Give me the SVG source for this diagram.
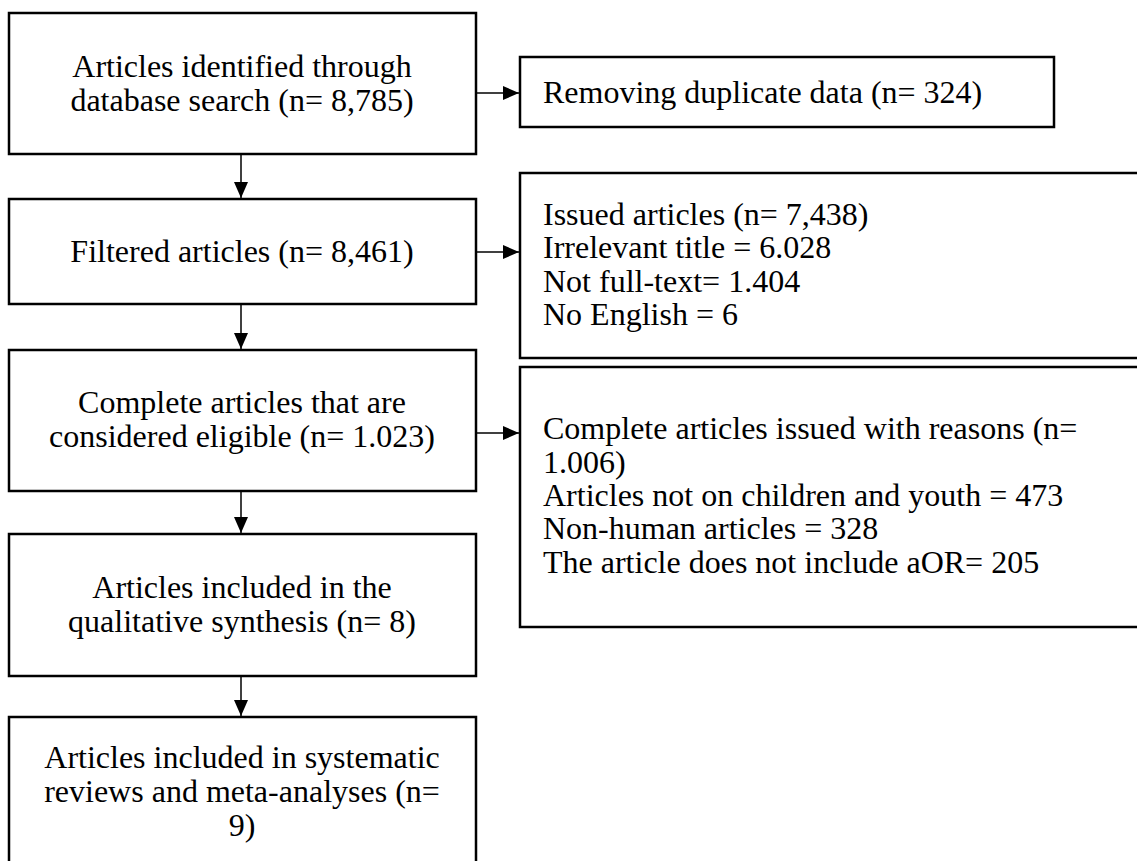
<svg xmlns="http://www.w3.org/2000/svg" width="1137" height="861" viewBox="0 0 1137 861">
<style>
.box{fill:#fff;stroke:#000;stroke-width:2.5}
.t{font-family:"Liberation Serif","Times New Roman",serif;font-size:32px;fill:#000}
.c{text-anchor:middle}
.edge{stroke:#000;stroke-width:1.5;fill:none;marker-end:url(#ah)}
</style>
<defs>
<marker id="ah" markerUnits="userSpaceOnUse" markerWidth="16" markerHeight="14" refX="16" refY="7" orient="auto">
<path d="M0,0 L16,7 L0,14 z" fill="#000"/>
</marker>
</defs>
<rect width="1137" height="861" fill="#fff"/>
<g id="connectors">
<line class="edge" x1="241" y1="154" x2="241" y2="198"/>
<line class="edge" x1="241" y1="304" x2="241" y2="349"/>
<line class="edge" x1="241" y1="491" x2="241" y2="533"/>
<line class="edge" x1="241" y1="676" x2="241" y2="716"/>
<line class="edge" x1="476" y1="93" x2="519" y2="93"/>
<line class="edge" x1="476" y1="252" x2="519" y2="252"/>
<line class="edge" x1="476" y1="433" x2="519" y2="433"/>
</g>
<g id="n1">
<rect class="box" x="9" y="13" width="467" height="141"/>
<text class="t c" x="242" y="77">Articles identified through</text>
<text class="t c" x="242" y="111">database search (n= 8,785)</text>
</g>
<g id="n2">
<rect class="box" x="9" y="199" width="467" height="105"/>
<text class="t c" x="242" y="262">Filtered articles (n= 8,461)</text>
</g>
<g id="n3">
<rect class="box" x="9" y="350" width="467" height="141"/>
<text class="t c" x="242" y="413">Complete articles that are</text>
<text class="t c" x="242" y="447">considered eligible (n= 1.023)</text>
</g>
<g id="n4">
<rect class="box" x="9" y="534" width="467" height="142"/>
<text class="t c" x="242" y="598">Articles included in the</text>
<text class="t c" x="242" y="632">qualitative synthesis (n= 8)</text>
</g>
<g id="n5">
<rect class="box" x="9" y="717" width="467" height="160"/>
<text class="t c" x="242" y="768">Articles included in systematic</text>
<text class="t c" x="242" y="802">reviews and meta-analyses (n=</text>
<text class="t c" x="242" y="836">9)</text>
</g>
<g id="r1">
<rect class="box" x="520" y="57" width="534" height="70"/>
<text class="t" x="543" y="103">Removing duplicate data (n= 324)</text>
</g>
<g id="r2">
<rect class="box" x="520" y="173" width="700" height="185"/>
<text class="t" x="543" y="225">Issued articles (n= 7,438)</text>
<text class="t" x="543" y="258">Irrelevant title = 6.028</text>
<text class="t" x="543" y="292">Not full-text= 1.404</text>
<text class="t" x="543" y="325">No English = 6</text>
</g>
<g id="r3">
<rect class="box" x="520" y="367" width="700" height="260"/>
<text class="t" x="543" y="439">Complete articles issued with reasons (n=</text>
<text class="t" x="543" y="473">1.006)</text>
<text class="t" x="543" y="506">Articles not on children and youth = 473</text>
<text class="t" x="543" y="539">Non-human articles = 328</text>
<text class="t" x="543" y="573">The article does not include aOR= 205</text>
</g>
</svg>
